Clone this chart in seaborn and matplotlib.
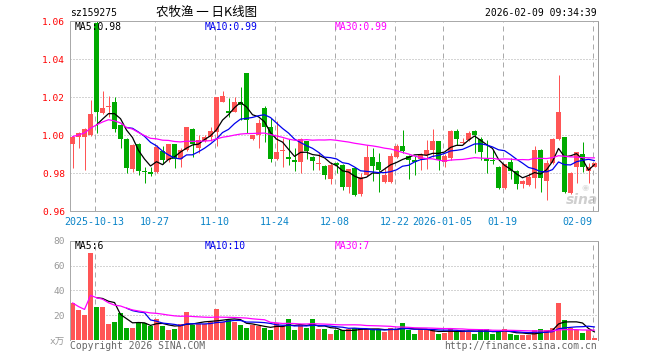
import numpy as np
import pandas as pd
import matplotlib
matplotlib.use("Agg")
import matplotlib.pyplot as plt
import seaborn as sns

sns.set_theme(style="white")
plt.rcParams["font.family"] = ["DejaVu Sans Mono", "Noto Sans CJK SC"]

# ---------------- data ----------------
symbol = "sz159275"
title = "农牧渔 一 日K线图"
timestamp = "2026-02-09 09:34:39"
tick_labels = ["2025-10-13", "10-27", "11-10", "11-24", "12-08", "12-22", "2026-01-05", "01-19", "02-09"]
tick_index = [4, 14, 24, 34, 44, 54, 62, 72, 87]
price_ticks = [0.96, 0.98, 1.00, 1.02, 1.04, 1.06]
vol_ticks = [0, 20, 40, 60, 80]
vol_tick_labels = ["x万", "20", "40", "60", "80"]
ma_price_text = ["MA5:0.98", "MA10:0.99", "MA30:0.99"]
ma_vol_text = ["MA5:6", "MA10:10", "MA30:7"]

opens = [0.9954, 0.9993, 0.9993, 1.0002, 1.059, 1.0116, 1.0147, 1.0175, 1.0054, 0.9981,
         0.9821, 0.9954, 0.9811, 0.9805, 0.9809, 0.9918, 0.9870, 0.9953, 0.9874, 0.9923,
         1.0033, 0.9932, 0.9970, 0.9993, 1.0016, 1.0177, 1.0128, 1.0125, 1.0177, 1.0330,
         0.9980, 1.0004, 1.0144, 1.0044, 0.9875, 0.9916, 0.9884, 0.9872, 0.9858, 0.9968,
         0.9886, 0.9847, 0.9837, 0.9772, 0.9854, 0.9846, 0.9726, 0.9828, 0.9693, 0.9793,
         0.9884, 0.9858, 0.9753, 0.9753, 0.9886, 0.9946, 0.9893, 0.9872, 0.9875, 0.9898,
         0.9925, 0.9968, 0.9862, 0.9882, 1.0023, 0.9958, 0.9975, 1.0023, 0.9980, 0.9874,
         0.9867, 0.9835, 0.9725, 0.9858, 0.9812, 0.9742, 0.9739, 0.9774, 0.9923, 0.9761,
         0.9853, 0.9980, 0.9989, 0.9695, 0.9835, 0.9900, 0.9814, 0.9835]
highs = [0.9998, 1.0018, 1.0037, 1.0186, 1.0600, 1.0235, 1.0207, 1.0204, 1.0058, 0.9985,
         0.9954, 0.9958, 0.9835, 0.9835, 0.9949, 0.9944, 0.9956, 0.9956, 0.9932, 1.0046,
         1.0037, 1.0002, 1.0002, 1.0042, 1.0200, 1.0233, 1.0195, 1.0204, 1.0256, 1.0330,
         1.0004, 1.0085, 1.0152, 1.0091, 1.0077, 0.9986, 0.9980, 0.9935, 0.9986, 0.9972,
         0.9890, 0.9911, 0.9846, 0.9858, 0.9858, 0.9850, 0.9823, 0.9832, 0.9802, 0.9951,
         0.9933, 0.9909, 0.9833, 0.9907, 0.9956, 1.0026, 0.9897, 0.9891, 0.9905, 0.9977,
         1.0033, 0.9972, 0.9902, 1.0027, 1.0033, 0.9988, 1.0024, 1.0027, 0.9993, 0.9975,
         0.9920, 0.9839, 0.9851, 0.9879, 0.9816, 0.9764, 0.9800, 0.9944, 0.9927, 0.9871,
         0.9984, 1.0317, 0.9993, 0.9809, 0.9914, 0.9966, 0.9853, 0.9857]
lows = [0.9830, 0.9932, 0.9818, 0.9996, 1.0010, 1.0110, 1.0098, 1.0019, 0.9932, 0.9800,
        0.9809, 0.9791, 0.9747, 0.9788, 0.9800, 0.9847, 0.9861, 0.9830, 0.9835, 0.9918,
        0.9888, 0.9907, 0.9965, 0.9972, 0.9944, 1.0177, 1.0098, 1.0121, 1.0081, 1.0010,
        0.9975, 0.9933, 0.9965, 0.9858, 0.9872, 0.9832, 0.9844, 0.9811, 0.9802, 0.9875,
        0.9819, 0.9819, 0.9770, 0.9746, 0.9802, 0.9710, 0.9696, 0.9679, 0.9679, 0.9784,
        0.9758, 0.9700, 0.9749, 0.9749, 0.9882, 0.9905, 0.9770, 0.9793, 0.9819, 0.9825,
        0.9886, 0.9819, 0.9831, 0.9870, 0.9949, 0.9954, 0.9972, 0.9909, 0.9870, 0.9800,
        0.9849, 0.9716, 0.9718, 0.9768, 0.9716, 0.9722, 0.9735, 0.9724, 0.9704, 0.9660,
        0.9850, 0.9976, 0.9698, 0.9691, 0.9747, 0.9809, 0.9747, 0.9831]
closes = [0.9993, 1.0011, 1.0033, 1.0112, 1.0125, 1.0146, 1.0154, 1.0033, 0.9979, 0.9826,
          0.9949, 0.9814, 0.9807, 0.9796, 0.9940, 0.9870, 0.9953, 0.9874, 0.9923, 1.0042,
          0.9954, 0.9975, 0.9993, 1.0023, 1.0200, 1.0209, 1.0119, 1.0177, 1.0160, 1.0081,
          1.0004, 1.0065, 1.0044, 0.9875, 0.9912, 0.9925, 0.9875, 0.9858, 0.9981, 0.9916,
          0.9863, 0.9854, 0.9793, 0.9846, 0.9846, 0.9726, 0.9823, 0.9684, 0.9781, 0.9884,
          0.9837, 0.9816, 0.9793, 0.9893, 0.9946, 0.9916, 0.9872, 0.9858, 0.9902, 0.9925,
          0.9968, 0.9872, 0.9893, 1.0023, 0.9980, 0.9966, 1.0010, 1.0002, 0.9914, 0.9865,
          0.9863, 0.9721, 0.9847, 0.9812, 0.9742, 0.9760, 0.9782, 0.9923, 0.9774, 0.9853,
          0.9980, 1.0124, 0.9703, 0.9800, 0.9910, 0.9835, 0.9835, 0.9853]
volumes = [29.9, 24.0, 20.0, 69.9, 26.7, 26.7, 12.8, 14.7, 21.9, 9.9,
           9.9, 14.1, 13.3, 11.5, 16.8, 11.2, 8.0, 8.8, 12.8, 22.7,
           12.0, 12.8, 12.8, 14.7, 24.8, 14.7, 16.0, 14.7, 12.0, 9.9,
           12.0, 11.2, 9.9, 8.0, 13.9, 11.2, 17.3, 8.0, 12.0, 9.9,
           17.3, 8.8, 8.8, 4.8, 8.0, 8.0, 8.8, 9.3, 8.8, 8.8,
           8.8, 8.8, 6.7, 9.3, 8.8, 13.9, 8.0, 4.8, 8.8, 8.0,
           8.0, 4.8, 5.3, 9.3, 7.2, 8.0, 6.7, 4.8, 8.8, 8.8,
           4.8, 6.7, 8.8, 4.8, 4.0, 4.0, 4.0, 8.0, 8.8, 8.0,
           9.9, 29.9, 16.0, 9.3, 8.0, 5.3, 8.0, 1.9]

# ---------------- styling ----------------
RED = "#ff5555"
GREEN = "#00aa00"
GRID = "#aaaaaa"
BLUE_TXT = "#0a84c8"
MA_COLORS = ["#000000", "#0000ee", "#ff00ff"]
W, H = 660, 360
PX = 0.72  # one pixel in points at dpi 100

df = pd.DataFrame({"i": np.arange(len(closes)), "open": opens, "high": highs,
                   "low": lows, "close": closes, "volume": volumes})
df["dir"] = np.where(df["close"] >= df["open"], "up", "down")
df["ma5"] = df["close"].rolling(5).mean()
df["ma10"] = df["close"].rolling(10).mean()
df["ma30"] = df["close"].rolling(30, min_periods=1).mean()
df["vma5"] = df["volume"].rolling(5).mean()
df["vma10"] = df["volume"].rolling(10).mean()
df["vma30"] = df["volume"].rolling(30, min_periods=1).mean()
colors = np.where(df["dir"] == "up", RED, GREEN)


def fx(x):
    return x / W


def fy(y):
    return 1 - y / H


fig = plt.figure(figsize=(6.6, 3.6), dpi=100)
fig.patch.set_facecolor("white")
ax = fig.add_axes([fx(70), fy(211.3), fx(598) - fx(70), fy(21.3) - fy(211.3)])
axv = fig.add_axes([fx(70), fy(340), fx(598) - fx(70), fy(240.7) - fy(340)])
ax.set_facecolor("none")
axv.set_facecolor("none")

XMIN, XMAX = -0.42, 87.58
grid_x = [t - 0.33 for t in tick_index]

# watermark behind the candles
fig.text(fx(582), fy(200), "sina", fontsize=10, fontstyle="italic", fontweight="bold",
         color="#cfcfcf", family="DejaVu Sans", ha="center", va="center", zorder=-1)
fig.text(fx(585), fy(187.5), "◉", fontsize=6, color="#dddddd", family="DejaVu Sans",
         ha="center", va="center", zorder=-1)

# ---------------- price panel ----------------
for gx in grid_x:
    ax.axvline(gx, color=GRID, lw=PX, ls=(0, (5, 4)), zorder=0)
for gy in price_ticks[1:-1]:
    ax.axhline(gy, color=GRID, lw=PX, ls=(0, (1, 2)), zorder=0)

ax.vlines(df["i"], df["low"], df["high"], colors=colors, lw=PX, zorder=2)
body_bottom = np.minimum(df["open"], df["close"])
body_h = np.maximum(np.abs(df["close"] - df["open"]), 0.0005)
ax.bar(df["i"], body_h, bottom=body_bottom, width=0.8, color=colors, linewidth=0, zorder=3)

for col, c in zip(["ma5", "ma10", "ma30"], MA_COLORS):
    sns.lineplot(data=df, x="i", y=col, color=c, lw=0.9, ax=ax, zorder=4)

ax.set_xlim(XMIN, XMAX)
ax.set_ylim(0.96, 1.06)
ax.set_xlabel("")
ax.set_ylabel("")
ax.set_yticks(price_ticks)
ax.set_yticklabels([f"{v:.2f}" for v in price_ticks])
ax.set_xticks(grid_x)
ax.set_xticklabels(tick_labels)
ax.tick_params(axis="y", length=0, pad=3.6, labelsize=6.8, labelcolor="#ff0000")
ax.tick_params(axis="x", length=0, pad=4, labelsize=7.2, labelcolor=BLUE_TXT)
xl = ax.get_xticklabels()
xl[-1].set_ha("right")
for s in ax.spines.values():
    s.set_color(GRID)
    s.set_linewidth(PX)
ax.spines["right"].set_color("#999999")

# ---------------- volume panel ----------------
for gx in grid_x:
    axv.axvline(gx, color=GRID, lw=PX, ls=(0, (5, 4)), zorder=0)
for gy in vol_ticks[1:-1]:
    axv.axhline(gy, color=GRID, lw=PX, ls=(0, (1, 2)), zorder=0)

sns.barplot(data=df, x="i", y="volume", hue="dir", palette={"up": RED, "down": GREEN},
            native_scale=True, dodge=False, width=0.8, saturation=1, legend=False,
            errorbar=None, linewidth=0, ax=axv, zorder=2)
for col, c in zip(["vma5", "vma10", "vma30"], MA_COLORS):
    sns.lineplot(data=df, x="i", y=col, color=c, lw=0.9, ax=axv, zorder=4)

axv.set_xlim(XMIN, XMAX)
axv.set_ylim(0, 80)
axv.set_xlabel("")
axv.set_ylabel("")
axv.set_xticks([])
axv.set_yticks(vol_ticks)
axv.set_yticklabels(vol_tick_labels)
axv.tick_params(axis="y", length=0, pad=3.6, labelsize=6.8, labelcolor="#999999")
for s in axv.spines.values():
    s.set_color(GRID)
    s.set_linewidth(PX)
axv.spines["right"].set_color("#999999")
axv.spines["bottom"].set_visible(False)

# ---------------- texts ----------------
fig.text(fx(70), fy(13), symbol, fontsize=7, ha="left", va="center", color="#000000")
fig.text(fx(207), fy(12.5), title, fontsize=9, ha="center", va="center",
         family=["Noto Sans CJK SC", "DejaVu Sans"], color="#000000")
fig.text(fx(597), fy(13), timestamp, fontsize=7, ha="right", va="center", color="#000000")
for x0, t, c in zip([75, 205, 335], ma_price_text, MA_COLORS):
    fig.text(fx(x0), fy(26.5), t, fontsize=7, ha="left", va="center", color=c)
for x0, t, c in zip([75, 205, 335], ma_vol_text, MA_COLORS):
    fig.text(fx(x0), fy(246.3), t, fontsize=7, ha="left", va="center", color=c)
fig.text(fx(70), fy(346.3), "Copyright 2026 SINA.COM", fontsize=7, ha="left", va="center",
         color="#666666")
fig.text(fx(597), fy(346.3), "http://finance.sina.com.cn", fontsize=7, ha="right",
         va="center", color="#666666")

fig.savefig("out.png", dpi=100)
